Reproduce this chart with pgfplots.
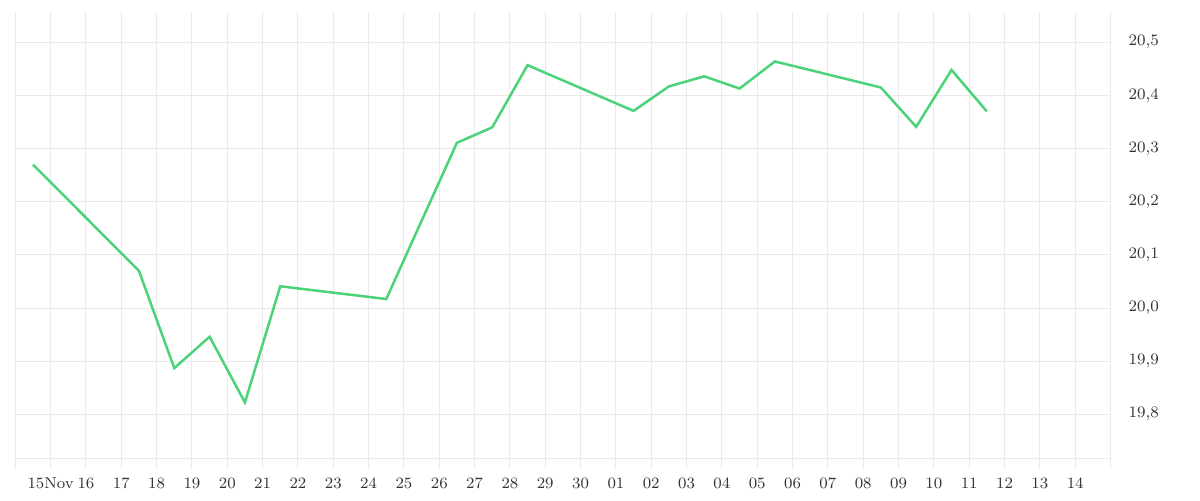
\documentclass[border=0pt]{standalone}
\usepackage{pgfplots}
\pgfplotsset{compat=1.18}
\definecolor{gridc}{RGB}{234,234,234}
\definecolor{linec}{RGB}{76,211,122}
\definecolor{textc}{RGB}{51,51,51}
\begin{document}
\begin{tikzpicture}
\path[use as bounding box] (-7.65pt,-20.65pt) rectangle (592.35pt,229.35pt);
\begin{axis}[
  at={(0pt,0pt)}, anchor=south west,
  scale only axis,
  width=547.6pt, height=223.35pt,
  xmin=0, xmax=31,
  ymin=19.7166, ymax=20.557,
  xtick={0,...,31},
  xticklabels={,15Nov,16,17,18,19,20,21,22,23,24,25,26,27,28,29,30,01,02,03,04,05,06,07,08,09,10,11,12,13,14,},
  ytick={19.8,19.9,20.0,20.1,20.2,20.3,20.4,20.5},
  yticklabel pos=right,
  yticklabel style={/pgf/number format/fixed, /pgf/number format/fixed zerofill, /pgf/number format/precision=1, /pgf/number format/use comma, anchor=west, xshift=0.5pt},
  xmajorgrids, ymajorgrids,
  grid style={gridc, line width=0.5pt},
  axis x line*=bottom,
  axis y line*=right,
  axis line style={gridc, line width=0.5pt, -},
  tick align=outside,
  major tick length=5pt,
  xtick style={gridc, line width=0.5pt},
  ytick style={draw=none},
  tick label style={font=\fontsize{7.9}{9}\selectfont, text=textc},
  xticklabel style={anchor=north, yshift=-1pt},
  clip=false,
]
\addplot[linec, line width=1.25pt] coordinates {
(0.5,20.270) (3.5,20.070) (4.5,19.887) (5.5,19.946) (6.5,19.8225) (7.5,20.041)
(10.5,20.017) (12.5,20.311) (13.5,20.340) (14.5,20.457) (17.5,20.371) (18.5,20.417)
(19.5,20.436) (20.5,20.413) (21.5,20.464) (24.5,20.415) (25.5,20.341) (26.5,20.448) (27.5,20.370)
};
\end{axis}
\end{tikzpicture}
\end{document}
